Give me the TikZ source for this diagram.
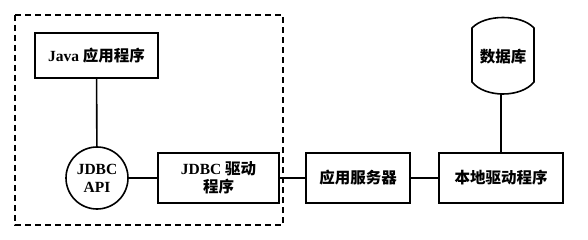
\documentclass[tikz,border=0pt]{standalone}
\usepackage{fontspec}
\setmainfont{Liberation Serif}
\newfontfamily\cjk{Noto Sans CJK SC}
\begin{document}
\begin{tikzpicture}[x=1pt,y=-1pt,
  lbl/.style={font=\fontsize{15.5}{18}\selectfont\bfseries},
  box/.style={draw,line width=1.6pt,minimum width=#1,minimum height=50pt,inner sep=0pt,align=center,lbl},
  conn/.style={line width=1.6pt}]
\useasboundingbox (0,0) rectangle (588,240);
\draw[line width=1.6pt,dash pattern=on 6pt off 4pt] (15,15) rectangle (283,225);
\node[box=123pt,minimum height=45pt] (java) at (96.5,55.5) {Java {\cjk 应用程序}};
\node[draw,circle,line width=1.6pt,minimum size=62pt,inner sep=0pt,align=center,lbl] (api) at (97,178) {JDBC\\API};
\node[box=121pt] (drv) at (218.5,178) {JDBC {\cjk 驱动}\\{\cjk 程序}};
\node[box=104pt] (srv) at (358,178) {\cjk 应用服务器};
\node[box=124pt] (loc) at (501,178) {\cjk 本地驱动程序};
\draw[line width=1.6pt] (472,28) -- (472,82) .. controls (485,98) and (521,98) .. (534,82) -- (534,28) .. controls (521,14) and (485,14) .. (472,28) -- cycle;
\node[lbl] (db) at (503,57) {\cjk 数据库};
\coordinate (dbb) at (501,94);
\draw[conn] (java) -- (api);
\draw[conn] (api) -- (drv);
\draw[conn] (drv) -- (srv);
\draw[conn] (srv) -- (loc);
\draw[conn] (dbb) -- (dbb |- loc.north);
\end{tikzpicture}
\end{document}
